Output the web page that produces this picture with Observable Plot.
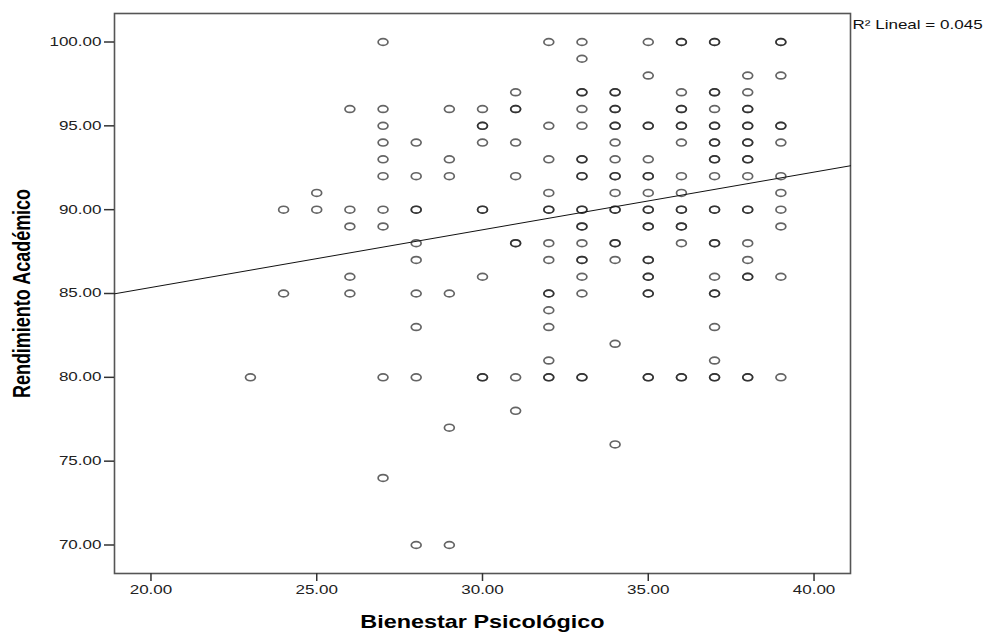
<!DOCTYPE html>
<html>
<head>
<meta charset="utf-8">
<script src="https://cdn.jsdelivr.net/npm/d3@7"></script>
<script src="https://cdn.jsdelivr.net/npm/@observablehq/plot@0.6"></script>
<style>
  body { margin: 0; background: #fff; }
  #grafico svg { display: block; }
</style>
</head>
<body>
<div id="grafico"></div>
<script>
// Puntaje de Bienestar Psicológico (una columna por valor entero)
const bienestar = [23, 24, 25, 26, 27, 28, 29, 30, 31, 32, 33, 34, 35, 36, 37, 38, 39];

// Rendimiento Académico de los casos de cada columna (valores repetidos = casos superpuestos)
const rendimiento = [
  [80],
  [90, 85],
  [91, 90],
  [96, 90, 89, 86, 85],
  [100, 96, 95, 94, 93, 92, 90, 89, 80, 74],
  [94, 92, 90, 90, 88, 87, 85, 83, 80, 70],
  [96, 93, 92, 85, 77, 70],
  [96, 95, 95, 94, 90, 90, 86, 80, 80],
  [97, 96, 96, 94, 92, 88, 88, 80, 78],
  [100, 95, 93, 91, 90, 90, 88, 87, 85, 85, 84, 83, 81, 80, 80],
  [100, 99, 97, 97, 96, 95, 93, 93, 92, 92, 90, 90, 89, 89, 88, 87, 87, 86, 85, 80, 80],
  [97, 97, 96, 96, 95, 95, 94, 93, 92, 92, 91, 90, 90, 88, 88, 87, 82, 76],
  [100, 98, 95, 95, 93, 92, 92, 91, 90, 90, 89, 89, 87, 87, 86, 86, 85, 85, 80, 80],
  [100, 100, 97, 96, 96, 95, 95, 94, 92, 91, 90, 90, 89, 89, 88, 80, 80],
  [100, 100, 97, 97, 96, 95, 95, 94, 94, 93, 93, 92, 90, 90, 88, 88, 86, 85, 85, 83, 81, 80, 80],
  [98, 97, 96, 96, 95, 95, 94, 94, 93, 93, 92, 90, 90, 88, 87, 86, 86, 80, 80],
  [100, 100, 98, 95, 95, 94, 92, 91, 90, 89, 86, 80]
];

// Ajuste lineal
const intercepto = 78.48;
const pendiente = 0.344;
const r2 = 0.045;

// Ejes
const ticksX = [20, 25, 30, 35, 40];
const ticksY = [70, 75, 80, 85, 90, 95, 100];
const dominioX = [18.9, 41.1];
const dominioY = [68.3, 101.7];
const tituloX = "Bienestar Psicológico";
const tituloY = "Rendimiento Académico";
const etiquetaR2 = `R² Lineal = ${r2.toFixed(3)}`;

const casos = bienestar.flatMap((b, i) => rendimiento[i].map((r) => ({b, r})));
const recta = dominioX.map((b) => ({b, r: intercepto + pendiente * b}));

// Marcador elíptico (círculo ensanchado horizontalmente)
const ANCHO = 1.45;
const elipse = {
  draw(context, size) {
    const ry = Math.sqrt(size / Math.PI);
    const rx = ry * ANCHO;
    const k = 0.5523;
    context.moveTo(rx, 0);
    context.bezierCurveTo(rx, k * ry, k * rx, ry, 0, ry);
    context.bezierCurveTo(-k * rx, ry, -rx, k * ry, -rx, 0);
    context.bezierCurveTo(-rx, -k * ry, -k * rx, -ry, 0, -ry);
    context.bezierCurveTo(k * rx, -ry, rx, -k * ry, rx, 0);
    context.closePath();
  }
};

const fmt = d3.format(".2f");

const chart = Plot.plot({
  width: 984,
  height: 632,
  marginLeft: 114,
  marginRight: 134,
  marginTop: 13,
  marginBottom: 59,
  style: {fontFamily: "'Liberation Sans', Arial, sans-serif", fontSize: "12px", color: "#222", background: "#fff", overflow: "visible"},
  x: {domain: dominioX, label: null},
  y: {domain: dominioY, label: null},
  marks: [
    Plot.frame({stroke: "#555", strokeWidth: 1.6}),
    Plot.axisX({ticks: ticksX, tickFormat: fmt, tickSize: 8, tickPadding: 4, label: null, stroke: "#333", strokeWidth: 1.5, fontSize: 12}),
    Plot.axisY({ticks: ticksY, tickFormat: fmt, tickSize: 10, tickPadding: 3, label: null, stroke: "#333", strokeWidth: 1.5, fontSize: 12}),
    Plot.line(recta, {x: "b", y: "r", stroke: "#111", strokeWidth: 1}),
    Plot.dot(casos, {x: "b", y: "r", r: 3.4, symbol: elipse, fill: "none", stroke: "#1a1a1a", strokeOpacity: 0.68, strokeWidth: 1.7}),
    Plot.text([tituloX], {frameAnchor: "bottom", lineAnchor: "middle", dy: 49, fontSize: 18, fontWeight: "bold", fill: "#000"}),
    Plot.text([tituloY], {frameAnchor: "left", textAnchor: "middle", lineAnchor: "middle", dx: -92, rotate: -90, fontSize: 18, fontWeight: "bold", fill: "#000"}),
    Plot.text([etiquetaR2], {frameAnchor: "top-right", lineAnchor: "middle", dx: 2, dy: 12, textAnchor: "start", fontSize: 12, fill: "#111"})
  ]
});

// Ensanchado horizontal de los textos
chart.querySelectorAll("text").forEach((t) => {
  const txt = t.textContent;
  const s = (txt === tituloX || txt === tituloY) ? 1.3 : 1.42;
  const tr = t.getAttribute("transform") || "";
  if (/rotate/.test(tr)) {
    t.setAttribute("transform", `${tr} scale(1,${s})`);
  } else {
    const ax = parseFloat(t.getAttribute("x")) || 0;
    t.setAttribute("transform", `${tr} translate(${ax},0) scale(${s},1) translate(${-ax},0)`);
  }
});

document.getElementById("grafico").append(chart);
</script>
</body>
</html>
